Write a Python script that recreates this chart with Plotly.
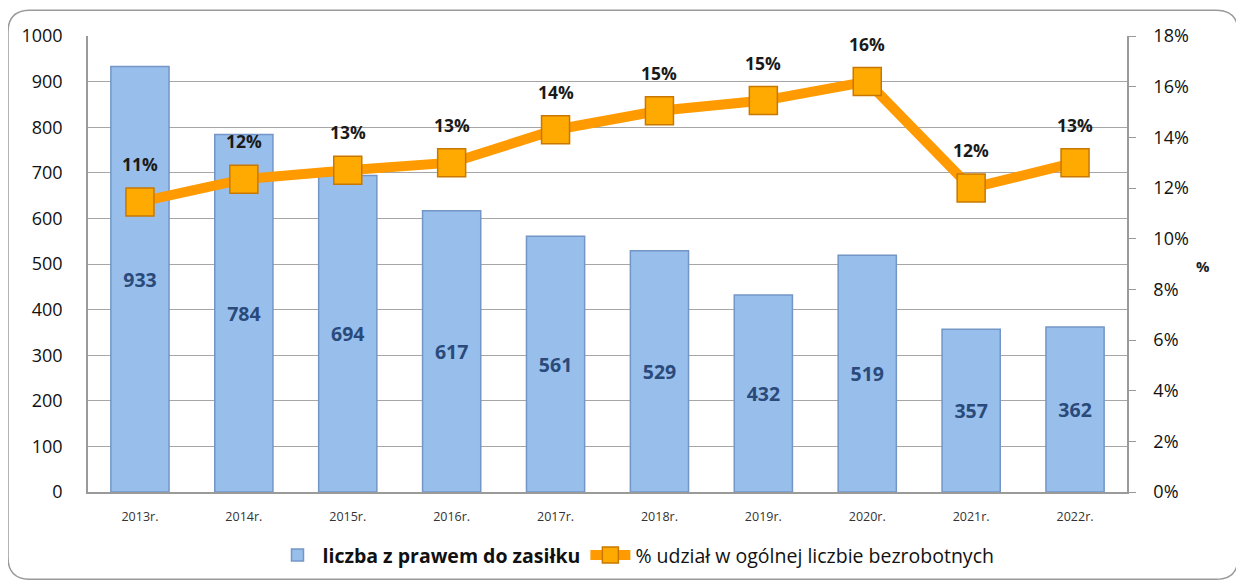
import plotly.graph_objects as go

years = ['2013r.', '2014r.', '2015r.', '2016r.', '2017r.', '2018r.', '2019r.', '2020r.', '2021r.', '2022r.']
counts = [933, 784, 694, 617, 561, 529, 432, 519, 357, 362]
share_pct = [11.45, 12.35, 12.7, 13.0, 14.3, 15.05, 15.45, 16.2, 12.0, 13.0]
share_labels = ['11%', '12%', '13%', '13%', '14%', '15%', '15%', '16%', '12%', '13%']

# the page body adds an 8px margin, so the figure is drawn 8px smaller
FW, FH = 1236, 579
OFF = 8
L, R, T, B = 88 - OFF, 1127 - OFF, 36 - OFF, 496 - OFF
W, H = R - L, B - T


def px2paper(x, y):
    # x, y are in screenshot pixels
    return (x - OFF - L) / W, (B - (y - OFF)) / H


fig = go.Figure()

fig.add_trace(go.Bar(
    x=years, y=counts, name='<b>liczba z prawem do zasiłku</b>',
    marker=dict(color='#98BEEC', line=dict(color='#7396C6', width=1.5)),
    texttemplate='<b>%{y}</b>', textposition='inside', insidetextanchor='middle',
    textfont=dict(color='#2A4A7A', size=19.5, family='Open Sans'),
    hoverinfo='x+y'))

fig.add_trace(go.Scatter(
    x=years, y=share_pct, yaxis='y2', mode='lines+markers',
    name='% udział w ogólnej liczbie bezrobotnych',
    line=dict(color='#FF9A00', width=10),
    marker=dict(symbol='square', size=28, color='#FFAA00',
                line=dict(color='#C87800', width=1.5))))

for yr, v, lab in zip(years, share_pct, share_labels):
    fig.add_annotation(x=yr, y=v, yref='y2', text='<b>' + lab + '</b>', showarrow=False,
                       yshift=38, font=dict(size=17.5, color='#1a1a1a', family='Open Sans'))

fig.add_annotation(xref='paper', yref='paper', x=px2paper(1212, 0)[0], y=px2paper(0, 268)[1],
                   text='<b>%</b>', showarrow=False, font=dict(size=15, color='#222'))

# rounded outer frame
x0, y0 = px2paper(8, 584)
x1, y1 = px2paper(1238, 10)
rx, ry = 22 / W, 22 / H
path = (f'M {x0 + rx} {y1} L {x1 - rx} {y1} Q {x1} {y1} {x1} {y1 - ry} '
        f'L {x1} {y0 + ry} Q {x1} {y0} {x1 - rx} {y0} L {x0 + rx} {y0} '
        f'Q {x0} {y0} {x0} {y0 + ry} L {x0} {y1 - ry} Q {x0} {y1} {x0 + rx} {y1} Z')
fig.add_shape(type='path', xref='paper', yref='paper', path=path,
              line=dict(color='#9A9A9A', width=1.5), layer='below')

fig.update_layout(
    width=FW, height=FH,
    margin=dict(l=L, r=FW - R, t=T, b=FH - B),
    paper_bgcolor='white', plot_bgcolor='white',
    bargap=0.44,
    font=dict(family='Open Sans', color='#222'),
    xaxis=dict(range=[-0.5, len(years) - 0.5], showline=True, linecolor='#9A9A9A',
               linewidth=1.5, tickfont=dict(size=12.5, color='#333'), ticks='',
               ticklabelstandoff=12),
    yaxis=dict(range=[0, 1000], dtick=100, showgrid=True, gridcolor='#A6A6A6', gridwidth=1.2,
               showline=True, linecolor='#9A9A9A', linewidth=1.5, zeroline=False,
               tickfont=dict(size=18, color='#111'), ticks='', ticklabelstandoff=20),
    yaxis2=dict(range=[0, 18], dtick=2, ticksuffix='%', overlaying='y', side='right',
                showgrid=False, showline=True, linecolor='#9A9A9A', linewidth=1.5,
                ticks='outside', ticklen=7, tickcolor='#9A9A9A', zeroline=False,
                ticklabelstandoff=14, tickfont=dict(size=18, color='#111')),
    legend=dict(orientation='h', x=px2paper(636, 0)[0], xanchor='center',
                y=px2paper(0, 560)[1], yanchor='middle',
                font=dict(size=19.5, color='#111'), itemwidth=40, traceorder='normal'),
    showlegend=True,
)

fig.write_html("out.html")
